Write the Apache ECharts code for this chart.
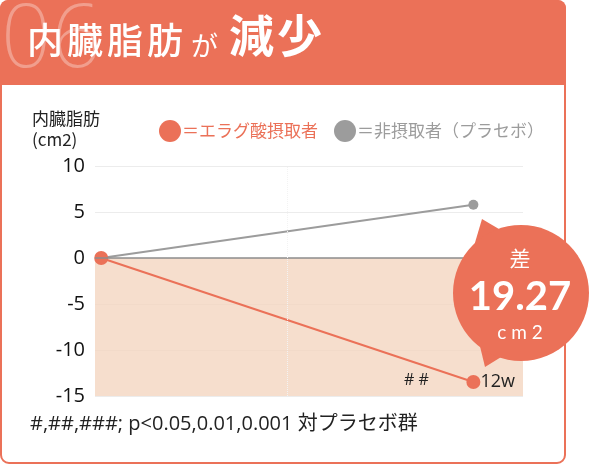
<!DOCTYPE html>
<html>
<head>
<meta charset="utf-8">
<script src="https://cdn.jsdelivr.net/npm/echarts@6/dist/echarts.min.js"></script>
<style>
  html, body { margin: 0; padding: 0; background: #fff; }
  #chart { width: 590px; height: 466px; }
</style>
</head>
<body>
<div id="chart"></div>
<script>
// データ
const weeks = [0, 12];
const ellagicValues = [0, -13.48];
const placeboValues = [0, 5.79];
const yTicks = [-15, -10, -5, 0, 5, 10];
const seriesNames = ['エラグ酸摂取者', '非摂取者（プラセボ）'];

const ORANGE = '#EB7158';
const GRAY = '#9C9C9C';
const JP = '"Noto Sans CJK JP", sans-serif';

const chart = echarts.init(document.getElementById('chart'));

// 差の値
const diff = (placeboValues[1] - ellagicValues[1]).toFixed(2);

// タイトル文字（1文字ずつ）
function titleChars(text, x0, step, top, size, weight) {
    return text.split('').map((ch, i) => ({
        type: 'text',
        left: x0 + i * step,
        top: top,
        style: { text: ch, fill: '#fff', fontSize: size, fontWeight: weight, fontFamily: JP }
    }));
}

const option = {
    animation: false,
    grid: { left: 95, right: 67, top: 166, bottom: 70 },
    legend: {
        left: 154,
        top: 115,
        itemWidth: 22,
        itemHeight: 22,
        itemGap: 16,
        icon: 'circle',
        formatter: '＝{name}',
        data: [
            { name: seriesNames[0], itemStyle: { color: ORANGE }, textStyle: { color: ORANGE } },
            { name: seriesNames[1], itemStyle: { color: GRAY }, textStyle: { color: GRAY } }
        ],
        textStyle: { fontFamily: JP, fontSize: 17, padding: [0, 0, 0, -4] }
    },
    xAxis: {
        type: 'value',
        min: -0.2,
        max: 13.6,
        axisLine: { show: false },
        axisTick: { show: false },
        axisLabel: { show: false },
        splitLine: { show: false }
    },
    yAxis: {
        type: 'value',
        min: yTicks[0],
        max: yTicks[yTicks.length - 1],
        interval: 5,
        axisLine: { show: false },
        axisTick: { show: false },
        axisLabel: {
            color: '#111',
            fontSize: 20,
            fontFamily: '"Open Sans", sans-serif',
            margin: 10
        },
        splitLine: { lineStyle: { color: '#ECECEC', width: 1 } }
    },
    series: [
        {
            // 背景（塗り・基準線）
            type: 'line',
            data: [],
            z: 1,
            markArea: {
                silent: true,
                itemStyle: { color: '#F4D6C1', opacity: 0.8 },
                data: [[{ xAxis: 'min', yAxis: yTicks[0] }, { xAxis: 'max', yAxis: 0 }]]
            },
            markLine: {
                silent: true,
                symbol: 'none',
                label: { show: false },
                data: [
                    { yAxis: 0, lineStyle: { color: '#8C8C8C', width: 1.5, type: 'solid' } },
                    { xAxis: 6, lineStyle: { color: '#F3F3F3', width: 1, type: 'dotted' } }
                ]
            }
        },
        {
            name: seriesNames[1],
            type: 'line',
            data: weeks.map((w, i) => [w, placeboValues[i]]),
            symbol: 'circle',
            symbolSize: 10,
            itemStyle: { color: GRAY },
            lineStyle: { color: GRAY, width: 2 },
            z: 3
        },
        {
            name: seriesNames[0],
            type: 'line',
            data: weeks.map((w, i) => [w, ellagicValues[i]]),
            symbol: 'circle',
            symbolSize: 14,
            itemStyle: { color: ORANGE },
            lineStyle: { color: ORANGE, width: 2 },
            z: 4,
            label: {
                show: true,
                position: 'right',
                distance: 0,
                color: '#222',
                fontSize: 18,
                fontFamily: '"Open Sans", sans-serif',
                formatter: p => (p.dataIndex === weeks.length - 1 ? '12w' : '')
            }
        }
    ],
    graphic: [
        // カード枠
        {
            type: 'rect',
            shape: { x: 1, y: 1, width: 564, height: 462, r: 8 },
            style: { fill: 'none', stroke: ORANGE, lineWidth: 2 },
            z: -10
        },
        // ヘッダー
        {
            type: 'rect',
            shape: { x: 0, y: 0, width: 566, height: 85, r: [8, 8, 0, 0] },
            style: { fill: ORANGE },
            z: -9
        },
        {
            type: 'text',
            left: 1,
            top: -2,
            style: {
                text: '06',
                fill: 'rgba(255,255,255,0.32)',
                fontSize: 88,
                fontWeight: 200,
                fontFamily: '"Noto Sans", sans-serif'
            },
            z: -8
        },
        ...titleChars('内臓脂肪', 27, 40, 22, 36, 500),
        {
            type: 'text',
            left: 191,
            top: 32,
            style: { text: 'が', fill: '#fff', fontSize: 27, fontFamily: JP }
        },
        ...titleChars('減少', 229, 48, 13, 45, 'bold'),
        // 軸名
        {
            type: 'text',
            left: 32,
            top: 108,
            style: {
                text: '内臓脂肪\n(cm2)',
                fill: '#222',
                fontSize: 17,
                lineHeight: 21,
                fontFamily: JP
            }
        },
        // 有意差記号
        {
            type: 'text',
            left: 404,
            top: 372,
            z: 10,
            style: { text: '# #', fill: '#222', fontSize: 16, fontFamily: '"Open Sans", sans-serif' }
        },
        // 吹き出し
        {
            type: 'polygon',
            shape: { points: [[482, 219], [474, 246], [504, 232]] },
            style: { fill: ORANGE },
            z: 20
        },
        {
            type: 'polygon',
            shape: { points: [[485, 367], [478, 338], [506, 354]] },
            style: { fill: ORANGE },
            z: 20
        },
        {
            type: 'circle',
            shape: { cx: 521, cy: 293, r: 68 },
            style: { fill: ORANGE },
            z: 20
        },
        {
            type: 'text',
            x: 520, y: 258,
            style: { text: '差', fill: '#fff', fontSize: 21, fontFamily: JP, align: 'center', verticalAlign: 'middle' },
            z: 21
        },
        {
            type: 'text',
            x: 520, y: 297,
            style: {
                text: diff,
                fill: '#fff',
                fontSize: 40,
                fontWeight: 'bold',
                fontFamily: 'Lato, sans-serif',
                align: 'center',
                verticalAlign: 'middle'
            },
            z: 21
        },
        {
            type: 'text',
            x: 520, y: 333,
            style: { text: 'c m 2', fill: '#fff', fontSize: 19, fontFamily: 'Lato, sans-serif', align: 'center', verticalAlign: 'middle' },
            z: 21
        },
        // 注釈
        {
            type: 'text',
            left: 30,
            top: 414,
            style: {
                text: '#,##,###; p<0.05,0.01,0.001 対プラセボ群',
                fill: '#222',
                fontSize: 20,
                fontFamily: '"Open Sans", "Noto Sans CJK JP", sans-serif'
            }
        }
    ]
};

chart.setOption(option);
</script>
</body>
</html>
